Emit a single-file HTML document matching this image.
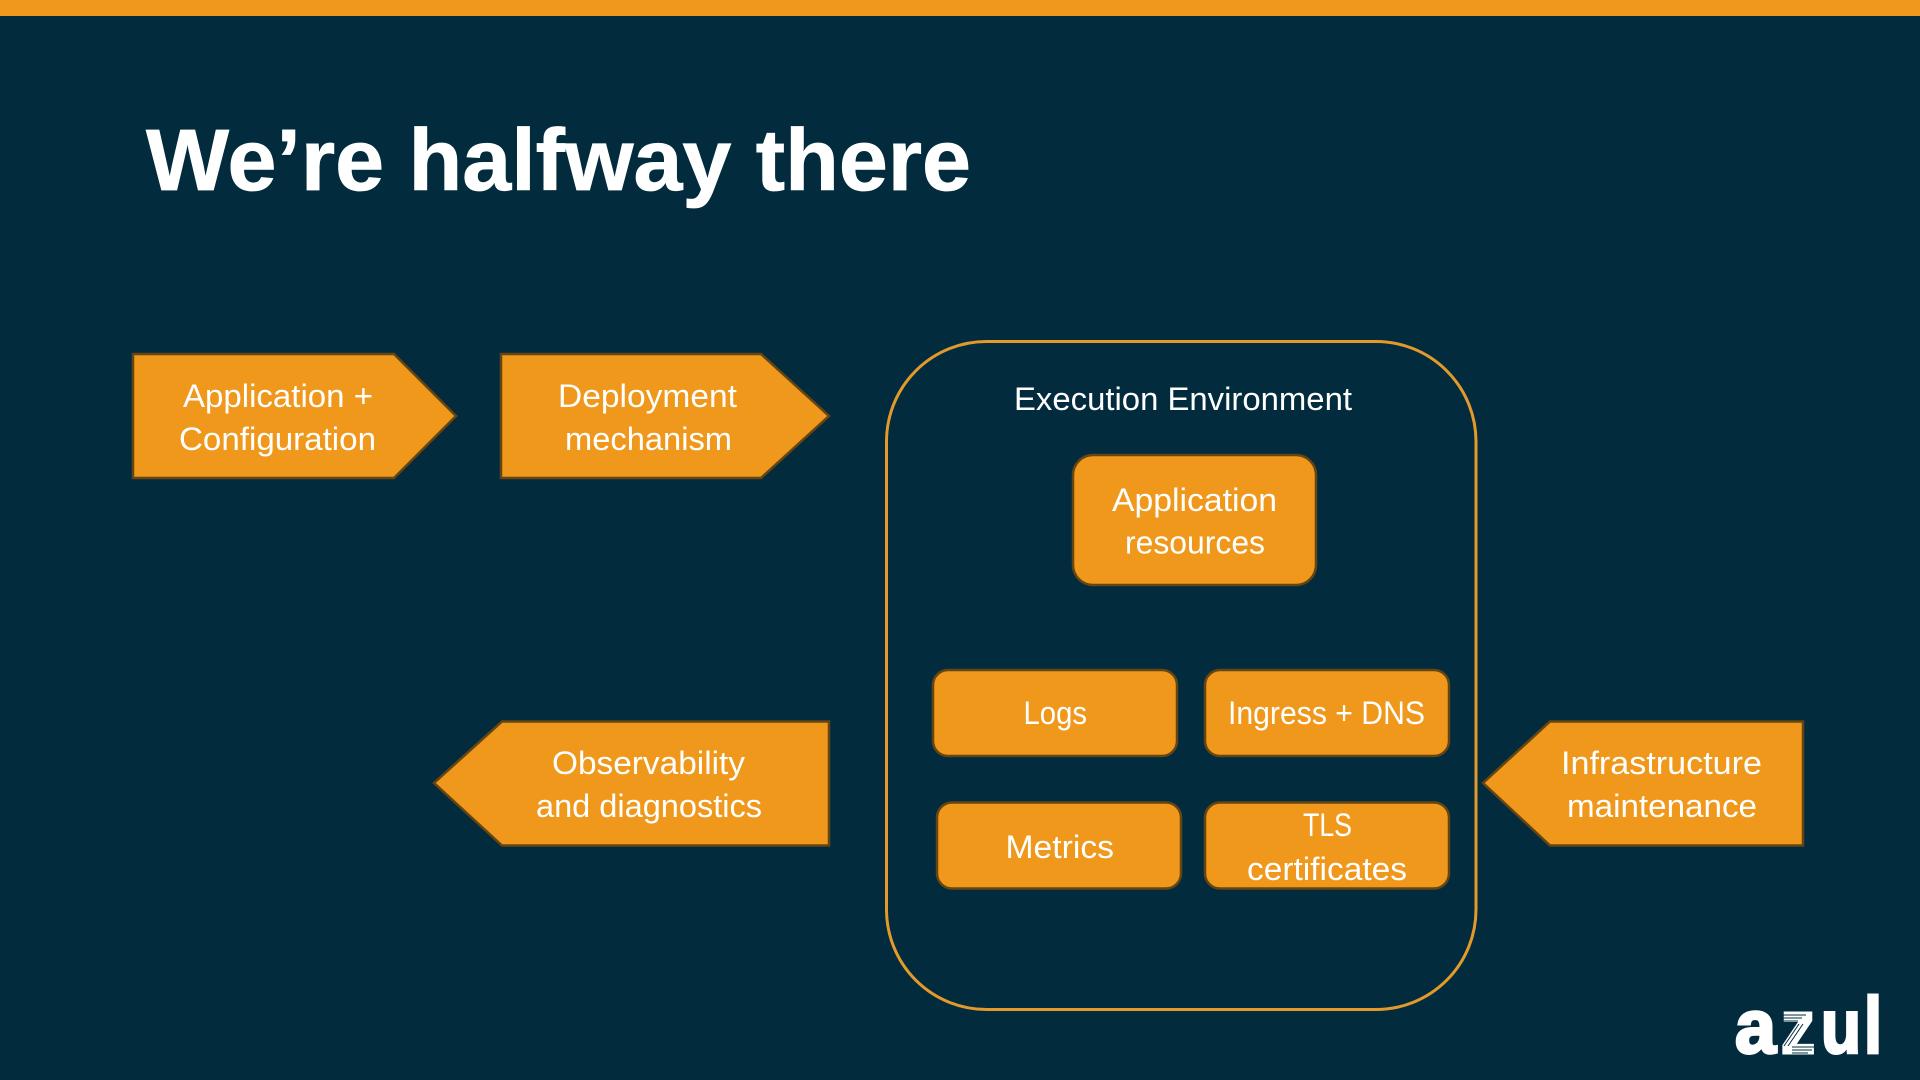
<!DOCTYPE html>
<html>
<head>
<meta charset="utf-8">
<title>We're halfway there</title>
<style>
html,body{margin:0;padding:0;background:#022c3e;width:1920px;height:1080px;overflow:hidden}
svg{display:block}
text{font-family:"Liberation Sans",sans-serif;fill:#fff}
.t{font-size:32px}
.s{fill:#f0981c;stroke:#654512;stroke-width:2.5}
</style>
</head>
<body>
<svg width="1920" height="1080" viewBox="0 0 1920 1080" xmlns="http://www.w3.org/2000/svg">
<rect width="1920" height="1080" fill="#022c3e"/>
<rect width="1920" height="16" fill="#f0981c"/>
<text x="146" y="190" font-size="87" font-weight="700" stroke="#fff" stroke-width="0.8" textLength="825" lengthAdjust="spacingAndGlyphs">We’re halfway there</text>

<polygon class="s" points="133,354 394,354 456,416 394,478 133,478"/>
<text class="t" x="183" y="407" textLength="190" lengthAdjust="spacingAndGlyphs">Application +</text>
<text class="t" x="179" y="450" textLength="197" lengthAdjust="spacingAndGlyphs">Configuration</text>

<polygon class="s" points="501,354 761,354 829,416 761,478 501,478"/>
<text class="t" x="558" y="407" textLength="179" lengthAdjust="spacingAndGlyphs">Deployment</text>
<text class="t" x="565" y="450" textLength="167" lengthAdjust="spacingAndGlyphs">mechanism</text>

<polygon class="s" points="434,783 502,721.5 829,721.5 829,845.5 502,845.5"/>
<text class="t" x="552" y="774" textLength="193" lengthAdjust="spacingAndGlyphs">Observability</text>
<text class="t" x="536" y="817" textLength="226" lengthAdjust="spacingAndGlyphs">and diagnostics</text>

<polygon class="s" points="1483,783 1550,721.5 1803,721.5 1803,845.5 1550,845.5"/>
<text class="t" x="1561" y="774" textLength="201" lengthAdjust="spacingAndGlyphs">Infrastructure</text>
<text class="t" x="1567" y="817" textLength="190" lengthAdjust="spacingAndGlyphs">maintenance</text>

<rect x="886.5" y="341.5" width="589.5" height="668" rx="100" ry="100" fill="none" stroke="#e39a2a" stroke-width="3"/>
<text class="t" x="1014" y="410" textLength="338" lengthAdjust="spacingAndGlyphs">Execution Environment</text>

<rect class="s" x="1073" y="455" width="243" height="130" rx="20"/>
<text class="t" x="1112" y="511" textLength="165" lengthAdjust="spacingAndGlyphs">Application</text>
<text class="t" x="1125" y="553.5" textLength="140" lengthAdjust="spacingAndGlyphs">resources</text>

<rect class="s" x="933" y="670" width="244" height="86" rx="15"/>
<text class="t" x="1023.5" y="724" textLength="63.5" lengthAdjust="spacingAndGlyphs">Logs</text>

<rect class="s" x="1205" y="670" width="244" height="86" rx="15"/>
<text class="t" x="1228" y="724" textLength="197" lengthAdjust="spacingAndGlyphs">Ingress + DNS</text>

<rect class="s" x="937" y="802.5" width="244" height="86" rx="15"/>
<text class="t" x="1005.5" y="858" textLength="108.5" lengthAdjust="spacingAndGlyphs">Metrics</text>

<rect class="s" x="1205" y="802.5" width="244" height="86" rx="15"/>
<text class="t" x="1303" y="836" textLength="49" lengthAdjust="spacingAndGlyphs">TLS</text>
<text class="t" x="1247" y="880" textLength="160" lengthAdjust="spacingAndGlyphs">certificates</text>

<g font-weight="700" stroke="#fff" stroke-width="3">
<text x="1735" y="1053" font-size="76" textLength="41" lengthAdjust="spacingAndGlyphs">a</text>
<text x="1781" y="1053" font-size="76" textLength="34" lengthAdjust="spacingAndGlyphs">z</text>
<text x="1821" y="1053" font-size="76" textLength="40" lengthAdjust="spacingAndGlyphs">u</text>
<text x="1864" y="1053" font-size="80" textLength="18" lengthAdjust="spacingAndGlyphs">l</text>
</g>
<g stroke="#022c3e" stroke-width="1">
<line x1="1780" y1="1015" x2="1806" y2="1015"/>
<line x1="1780" y1="1018" x2="1802" y2="1018"/>
<line x1="1780" y1="1021" x2="1798" y2="1021"/>
<line x1="1792" y1="1047" x2="1816" y2="1047"/>
<line x1="1792" y1="1050" x2="1812" y2="1050"/>
<line x1="1792" y1="1053" x2="1808" y2="1053"/>
<line x1="1803" y1="1024" x2="1788" y2="1046"/>
<line x1="1799" y1="1024" x2="1784" y2="1046"/>
</g>
</svg>
</body>
</html>
